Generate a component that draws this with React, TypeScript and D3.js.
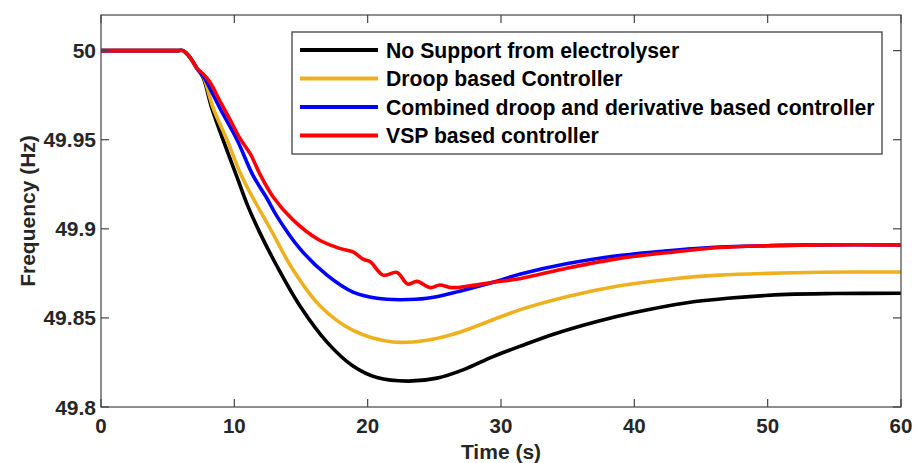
import React from "react";
import * as d3 from "d3";

const xTicks = [0, 10, 20, 30, 40, 50, 60];
const yTicks = [49.8, 49.85, 49.9, 49.95, 50];
const yTickLabels = ["49.8", "49.85", "49.9", "49.95", "50"];

const seriesNames = [
  "No Support from electrolyser",
  "Droop based Controller",
  "Combined droop and derivative based controller",
  "VSP based controller",
];
const seriesColors = ["#000000", "#EDB120", "#0000FF", "#FF0000"];

const noSupport: [number, number][] = [
  [0, 50], [2, 50], [4, 50], [5.7, 50], [6.15, 50], [6.7, 49.996], [7.2, 49.99], [7.65, 49.985], [8.3, 49.968],
  [9.15, 49.95], [10.2, 49.929], [11.0, 49.913], [11.9, 49.898], [13.2, 49.879],
  [14.9, 49.857], [17.0, 49.836], [18.9, 49.823], [20.7, 49.8165], [23.0, 49.8145],
  [25.2, 49.8162], [27.2, 49.821], [29.4, 49.8283], [31.4, 49.834], [34, 49.841],
  [37.2, 49.848], [40, 49.853], [43.95, 49.8585], [47, 49.861], [51.45, 49.8632],
  [55, 49.8637], [60, 49.8638],
];

const droop: [number, number][] = [
  [0, 50], [2, 50], [4, 50], [5.7, 50], [6.15, 50], [6.7, 49.996], [7.2, 49.99], [7.65, 49.986], [8.4, 49.968],
  [9.45, 49.95], [10.4, 49.932], [11.2, 49.92], [12.7, 49.9], [14.4, 49.877],
  [16.4, 49.857], [18.9, 49.843], [21.9, 49.8365], [24.45, 49.8375], [26.9, 49.842],
  [29.4, 49.849], [31.4, 49.8545], [35, 49.862], [38.9, 49.868], [43, 49.872],
  [46.4, 49.874], [50, 49.875], [53.9, 49.8756], [60, 49.8758],
];

const combined: [number, number][] = [
  [0, 50], [2, 50], [4, 50], [5.7, 50], [6.15, 50], [6.7, 49.996], [7.2, 49.99], [7.65, 49.986], [7.95, 49.982],
  [8.9, 49.968], [10.2, 49.95], [11.4, 49.93], [12.45, 49.917], [13.2, 49.907],
  [14.9, 49.889], [16.95, 49.874], [18.9, 49.8645], [20.7, 49.861], [22.4, 49.8602],
  [24.45, 49.861], [26.9, 49.865], [29.4, 49.87], [31.4, 49.8745], [35, 49.8805],
  [38.9, 49.885], [43, 49.888], [46.4, 49.8898], [50, 49.8905], [53.9, 49.891], [60, 49.891],
];

const vsp: [number, number][] = [
  [0, 50], [2, 50], [4, 50], [5.7, 50], [6.15, 50], [6.7, 49.996], [7.2, 49.99], [7.65, 49.987], [8.2, 49.982],
  [8.9, 49.972], [9.7, 49.961], [10.4, 49.951], [11.2, 49.942], [11.9, 49.931],
  [12.9, 49.918], [14.4, 49.905], [16.3, 49.894], [17.9, 49.889], [18.9, 49.887],
  [19.65, 49.883], [20.2, 49.8815], [21.15, 49.874], [22.2, 49.8755], [23.0, 49.869],
  [23.7, 49.8705], [24.7, 49.867], [25.4, 49.8685], [26.3, 49.867], [27.7, 49.868],
  [29.4, 49.87], [31.4, 49.872], [35, 49.878], [38.9, 49.8834], [43, 49.887],
  [46.4, 49.8895], [50, 49.8905], [53.9, 49.891], [60, 49.891],
];

const allSeries = [noSupport, droop, combined, vsp];

const W = 918;
const H = 463;
const M = { left: 101, right: 901, top: 15, bottom: 407 };

export default function App() {
  const x = d3.scaleLinear().domain([0, 60]).range([M.left, M.right]);
  const y = d3.scaleLinear().domain([49.8, 50.02]).range([M.bottom, M.top]);
  const line = d3
    .line<[number, number]>()
    .x((d) => x(d[0]))
    .y((d) => y(d[1]))
    .curve(d3.curveCatmullRom.alpha(0.5));

  const axisColor = "#444";
  const textColor = "#262626";
  const font = "'Liberation Sans', Arial, sans-serif";
  const tickLen = 8;

  const legend = { x: 292, y: 32, w: 590, h: 122, row0: 50, rowGap: 28.5 };

  return (
    <div style={{ position: "absolute", left: 0, top: 0 }}>
      <svg width={W} height={H} style={{ display: "block", background: "#fff" }}>
        <rect x={0} y={0} width={W} height={H} fill="#fff" />
        <defs>
          <clipPath id="plotclip">
            <rect x={M.left} y={M.top} width={M.right - M.left} height={M.bottom - M.top} />
          </clipPath>
        </defs>
        <g clipPath="url(#plotclip)">
          {allSeries.map((s, i) => (
            <path
              key={i}
              d={line(s) || ""}
              fill="none"
              stroke={seriesColors[i]}
              strokeWidth={3.6}
              strokeLinejoin="round"
              strokeLinecap="round"
            />
          ))}
        </g>
        <rect
          x={M.left}
          y={M.top}
          width={M.right - M.left}
          height={M.bottom - M.top}
          fill="none"
          stroke={axisColor}
          strokeWidth={1.2}
        />
        {xTicks.map((t) => (
          <g key={"xt" + t}>
            <line x1={x(t)} x2={x(t)} y1={M.bottom} y2={M.bottom - tickLen} stroke={axisColor} strokeWidth={1.2} />
            <line x1={x(t)} x2={x(t)} y1={M.top} y2={M.top + tickLen} stroke={axisColor} strokeWidth={1.2} />
            <text
              x={x(t)}
              y={M.bottom + 26}
              textAnchor="middle"
              fontFamily={font}
              fontWeight="bold"
              fontSize={20.5}
              fill={textColor}
            >
              {t}
            </text>
          </g>
        ))}
        {yTicks.map((t, i) => (
          <g key={"yt" + t}>
            <line x1={M.left} x2={M.left + tickLen} y1={y(t)} y2={y(t)} stroke={axisColor} strokeWidth={1.2} />
            <line x1={M.right} x2={M.right - tickLen} y1={y(t)} y2={y(t)} stroke={axisColor} strokeWidth={1.2} />
            <text
              x={M.left - 5}
              y={y(t)}
              dy="0.36em"
              textAnchor="end"
              fontFamily={font}
              fontWeight="bold"
              fontSize={21}
              fill={textColor}
            >
              {yTickLabels[i]}
            </text>
          </g>
        ))}
        <text
          x={(M.left + M.right) / 2}
          y={459}
          textAnchor="middle"
          fontFamily={font}
          fontWeight="bold"
          fontSize={21}
          fill={textColor}
        >
          Time (s)
        </text>
        <text
          transform={`translate(35, ${(M.top + M.bottom) / 2}) rotate(-90)`}
          textAnchor="middle"
          fontFamily={font}
          fontWeight="bold"
          fontSize={21}
          fill={textColor}
        >
          Frequency (Hz)
        </text>
        <rect
          x={legend.x}
          y={legend.y}
          width={legend.w}
          height={legend.h}
          fill="#fff"
          stroke="#333"
          strokeWidth={1.2}
        />
        {seriesNames.map((n, i) => {
          const ry = legend.row0 + i * legend.rowGap;
          return (
            <g key={"lg" + i}>
              <line x1={300} x2={378} y1={ry} y2={ry} stroke={seriesColors[i]} strokeWidth={4} />
              <text
                x={386}
                y={ry}
                dy="0.36em"
                fontFamily={font}
                fontWeight="bold"
                fontSize={21.2}
                fill="#000"
              >
                {n}
              </text>
            </g>
          );
        })}
      </svg>
    </div>
  );
}
